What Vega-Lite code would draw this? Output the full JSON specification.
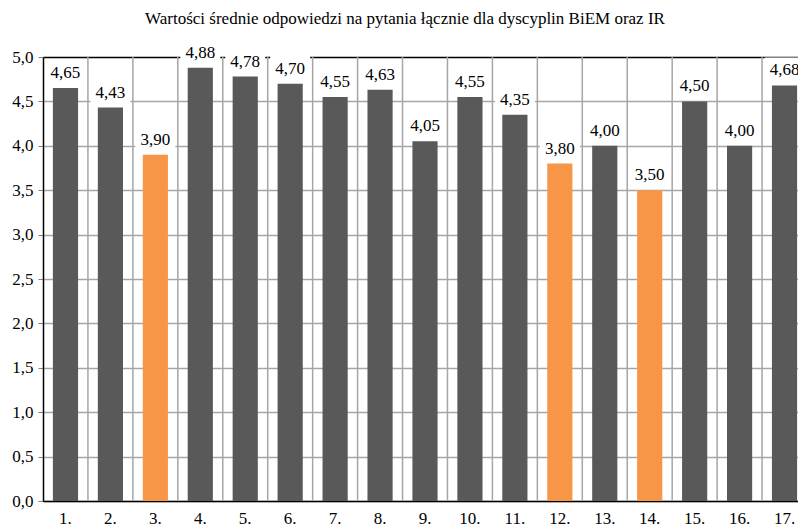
{
  "$schema": "https://vega.github.io/schema/vega-lite/v6.json",
  "width": 764,
  "height": 444,
  "autosize": {"type": "none"},
  "padding": {"left": 43, "top": 57, "right": 0, "bottom": 28},
  "background": "white",
  "title": {
    "text": "Wartości średnie odpowiedzi na pytania łącznie dla dyscyplin BiEM oraz IR",
    "font": "Liberation Serif, serif",
    "fontSize": 17,
    "fontWeight": "normal",
    "color": "#000000",
    "anchor": "middle",
    "dx": -20,
    "offset": 12
  },
  "config": {
    "font": "Liberation Serif, serif",
    "view": {"stroke": null},
    "locale": {
      "number": {"decimal": ",", "thousands": " ", "grouping": [3], "currency": ["", " zł"]}
    }
  },
  "data": {
    "values": [
      {"q": "1.", "v": 4.65, "typ": "standard"},
      {"q": "2.", "v": 4.43, "typ": "standard"},
      {"q": "3.", "v": 3.90, "typ": "wyróżnione"},
      {"q": "4.", "v": 4.88, "typ": "standard"},
      {"q": "5.", "v": 4.78, "typ": "standard"},
      {"q": "6.", "v": 4.70, "typ": "standard"},
      {"q": "7.", "v": 4.55, "typ": "standard"},
      {"q": "8.", "v": 4.63, "typ": "standard"},
      {"q": "9.", "v": 4.05, "typ": "standard"},
      {"q": "10.", "v": 4.55, "typ": "standard"},
      {"q": "11.", "v": 4.35, "typ": "standard"},
      {"q": "12.", "v": 3.80, "typ": "wyróżnione"},
      {"q": "13.", "v": 4.00, "typ": "standard"},
      {"q": "14.", "v": 3.50, "typ": "wyróżnione"},
      {"q": "15.", "v": 4.50, "typ": "standard"},
      {"q": "16.", "v": 4.00, "typ": "standard"},
      {"q": "17.", "v": 4.68, "typ": "standard"}
    ]
  },
  "encoding": {
    "x": {
      "field": "q",
      "type": "ordinal",
      "sort": null,
      "scale": {"paddingInner": 0, "paddingOuter": 0},
      "axis": {
        "title": null,
        "labelAngle": 0,
        "ticks": false,
        "grid": false,
        "domainColor": "#000000",
        "domainWidth": 1.5,
        "labelFont": "Liberation Serif, serif",
        "labelFontSize": 17,
        "labelColor": "#000000",
        "labelPadding": 9
      }
    }
  },
  "layer": [
    {
      "mark": {"type": "rule", "color": "#a6a6a6", "strokeWidth": 1.5},
      "encoding": {
        "x": {"field": "q", "type": "ordinal", "sort": null, "bandPosition": 0},
        "strokeOpacity": {"condition": {"test": "datum.q == '1.'", "value": 0}, "value": 1}
      }
    },
    {
      "mark": {"type": "bar", "width": {"band": 0.56}},
      "encoding": {
        "y": {
          "field": "v",
          "type": "quantitative",
          "scale": {"domain": [0, 5], "nice": false},
          "axis": {
            "title": null,
            "values": [0, 0.5, 1, 1.5, 2, 2.5, 3, 3.5, 4, 4.5, 5],
            "format": ".1f",
            "labelFont": "Liberation Serif, serif",
            "labelFontSize": 17,
            "labelColor": "#000000",
            "labelPadding": 5,
            "tickSize": 5,
            "tickColor": "#808080",
            "domainColor": "#000000",
            "domainWidth": 1.5,
            "grid": true,
            "gridWidth": 1.5,
            "gridColor": {"condition": {"test": "datum.value == 5", "value": "#000000"}, "value": "#a6a6a6"}
          }
        },
        "color": {
          "field": "typ",
          "type": "nominal",
          "scale": {"domain": ["standard", "wyróżnione"], "range": ["#595959", "#F79646"]},
          "legend": null
        }
      }
    },
    {
      "mark": {
        "type": "point",
        "shape": "M-1,-0.6L1,-0.6L1,0.6L-1,0.6Z",
        "filled": true,
        "fill": "white",
        "opacity": 1,
        "strokeWidth": 0,
        "size": 1600,
        "yOffset": -16
      },
      "encoding": {
        "y": {"field": "v", "type": "quantitative"}
      }
    },
    {
      "mark": {
        "type": "text",
        "font": "Liberation Serif, serif",
        "fontSize": 17,
        "color": "#000000",
        "baseline": "alphabetic",
        "dy": -10
      },
      "encoding": {
        "y": {"field": "v", "type": "quantitative"},
        "text": {"field": "v", "type": "quantitative", "format": ".2f"}
      }
    }
  ]
}
